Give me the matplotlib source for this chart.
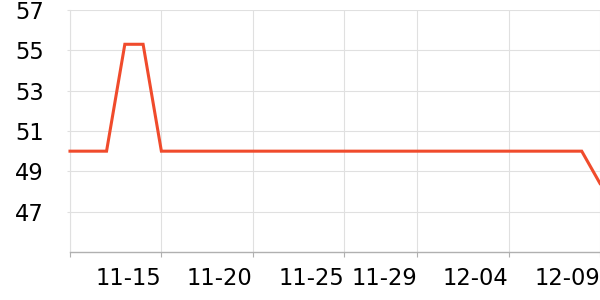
import matplotlib
matplotlib.use("Agg")
import matplotlib.pyplot as plt
import numpy as np

# daily values 11-10 .. 12-09
dates = ['11-10', '11-11', '11-12', '11-13', '11-14', '11-15', '11-16', '11-17',
         '11-18', '11-19', '11-20', '11-21', '11-22', '11-23', '11-24', '11-25',
         '11-26', '11-27', '11-28', '11-29', '11-30', '12-01', '12-02', '12-03',
         '12-04', '12-05', '12-06', '12-07', '12-08', '12-09']
values = [50, 50, 50, 55.3, 55.3, 50, 50, 50,
          50, 50, 50, 50, 50, 50, 50, 50,
          50, 50, 50, 50, 50, 50, 50, 50,
          50, 50, 50, 50, 50, 48.4]
tick_labels = ['11-15', '11-20', '11-25', '11-29', '12-04', '12-09']
y_ticks = [47, 49, 51, 53, 55, 57]

LINE = '#f04b2c'
GRID = '#e0e0e0'
FS = 16.3

fig = plt.figure(figsize=(6, 3), dpi=100)
ax = fig.add_axes([70/600, 48/300, 530/600, 242/300])

x = np.arange(len(dates))
ax.plot(x, values, color=LINE, linewidth=2.2, solid_joinstyle='miter', clip_on=False, zorder=3)

ax.set_xlim(0, len(dates) - 1)
ax.set_ylim(45, 57)

tick_pos = [dates.index(t) for t in tick_labels]
ax.set_xticks([0] + tick_pos)
ax.set_xticklabels([''] + tick_labels, ha='right', fontsize=FS)
ax.set_yticks(y_ticks)
ax.set_yticklabels([str(v) for v in y_ticks], fontsize=FS)

ax.grid(True, color=GRID, linewidth=0.8)
ax.set_axisbelow(True)

for s in ['top', 'right']:
    ax.spines[s].set_visible(False)
ax.spines['left'].set_color(GRID)
ax.spines['left'].set_linewidth(0.8)
ax.spines['bottom'].set_color('#b0b0b0')
ax.spines['bottom'].set_linewidth(1.0)

ax.tick_params(axis='x', length=3.5, color='#b0b0b0', width=0.8, pad=7)
ax.tick_params(axis='y', length=2.5, color=GRID, width=0.8, pad=16.5)

fig.savefig('out.png', dpi=100)
